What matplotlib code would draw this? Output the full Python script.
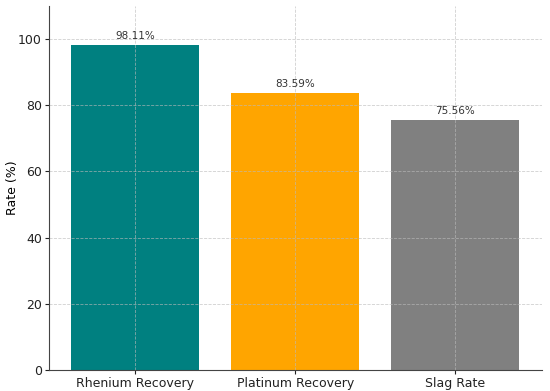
import matplotlib
matplotlib.use("Agg")
import matplotlib.pyplot as plt

categories = ["Rhenium Recovery", "Platinum Recovery", "Slag Rate"]
values = [98.11, 83.59, 75.56]
colors = ["teal", "orange", "gray"]

fig, ax = plt.subplots(figsize=(5.5, 3.91), dpi=100)
bars = ax.bar(categories, values, color=colors)

for b, v in zip(bars, values):
    ax.text(b.get_x() + b.get_width() / 2, v + 1.2, f"{v:.2f}%",
            ha="center", va="bottom", fontsize=7.5, color="#333333")

ax.set_ylim(0, 110)
ax.set_ylabel("Rate (%)", fontsize=9)
ax.yaxis.set_label_coords(-0.06, 0.5)
ax.tick_params(labelsize=9, colors="#222222", length=3, pad=2)
ax.grid(True, linestyle="--", linewidth=0.6, color="#bbbbbb", alpha=0.7)
for s in ["top", "right"]:
    ax.spines[s].set_visible(False)
for s in ["left", "bottom"]:
    ax.spines[s].set_color("#444444")

fig.subplots_adjust(left=0.089, right=0.985, top=0.985, bottom=0.054)
fig.savefig("out.png")
